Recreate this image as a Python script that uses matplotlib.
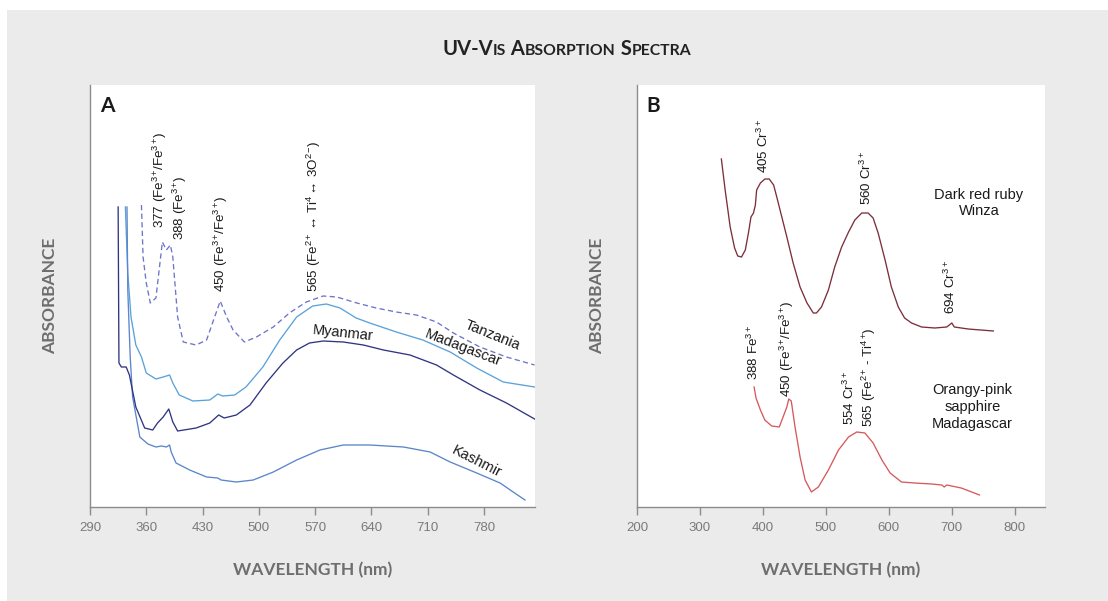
import numpy as np
import matplotlib
matplotlib.use("Agg")
import matplotlib.pyplot as plt
from matplotlib.patches import Rectangle

plt.rcParams["font.family"] = ["Liberation Sans", "DejaVu Sans"]
plt.rcParams["mathtext.fontset"] = "custom"
plt.rcParams["mathtext.rm"] = "Liberation Sans"
plt.rcParams["mathtext.it"] = "Liberation Sans:italic"
plt.rcParams["mathtext.bf"] = "Liberation Sans:bold"

# ---- panel A data (wavelength nm, absorbance arb. units) ----
tanzania_wl = [354, 356, 360, 365, 372, 380, 385, 390, 393, 399, 406, 422, 435, 445, 452,
               460, 468, 482, 497, 518, 538, 559, 580, 597, 622, 646, 671, 696, 721, 742,
               775, 808, 843]
tanzania_abs = [3.02, 2.50, 2.24, 2.04, 2.09, 2.65, 2.57, 2.62, 2.50, 1.90, 1.65, 1.62, 1.67,
                1.90, 2.06, 1.90, 1.77, 1.65, 1.70, 1.80, 1.94, 2.05, 2.11, 2.10, 2.04, 1.99,
                1.95, 1.92, 1.85, 1.74, 1.60, 1.50, 1.42]

madagascar_wl = [334, 337, 341, 347, 354, 360, 372, 381, 389, 393, 401, 418, 439, 449, 455,
                 470, 484, 505, 526, 547, 567, 584, 601, 621, 638, 671, 704, 738, 771, 804, 843]
madagascar_abs = [3.00, 2.34, 1.90, 1.62, 1.50, 1.34, 1.28, 1.30, 1.32, 1.24, 1.12, 1.06, 1.07,
                  1.13, 1.11, 1.12, 1.20, 1.40, 1.67, 1.90, 2.01, 2.03, 1.99, 1.89, 1.84, 1.75,
                  1.67, 1.55, 1.39, 1.25, 1.20]

myanmar_wl = [325, 326, 329, 335, 339, 347, 358, 368, 374, 381, 388, 393, 399, 422, 439, 450,
              457, 472, 489, 509, 530, 547, 563, 580, 605, 630, 655, 688, 721, 742, 775, 808, 843]
myanmar_abs = [3.00, 1.44, 1.40, 1.40, 1.32, 1.00, 0.79, 0.77, 0.84, 0.90, 0.98, 0.85, 0.76,
               0.79, 0.84, 0.92, 0.89, 0.92, 1.02, 1.24, 1.44, 1.57, 1.64, 1.66, 1.65, 1.62,
               1.57, 1.52, 1.42, 1.32, 1.17, 1.04, 0.88]

kashmir_wl = [336, 337, 340, 343, 352, 362, 372, 379, 385, 389, 391, 397, 414, 435, 449, 453,
              472, 493, 518, 547, 576, 605, 638, 680, 713, 738, 771, 800, 831]
kashmir_abs = [3.00, 2.17, 1.50, 1.10, 0.70, 0.63, 0.60, 0.61, 0.60, 0.62, 0.55, 0.44, 0.37,
               0.30, 0.29, 0.27, 0.25, 0.27, 0.35, 0.47, 0.57, 0.62, 0.62, 0.60, 0.55, 0.45,
               0.34, 0.24, 0.07]

# ---- panel B data ----
ruby_wl = [334, 340, 348, 355, 360, 366, 372, 377, 381, 385, 388, 390, 396, 403, 410, 417,
           422, 430, 438, 448, 459, 470, 480, 485, 493, 504, 514, 525, 536, 546, 557, 567,
           575, 583, 594, 604, 615, 625, 636, 652, 673, 692, 700, 704, 726, 766]
ruby_abs = [3.48, 3.17, 2.80, 2.59, 2.51, 2.50, 2.57, 2.74, 2.90, 2.94, 3.02, 3.17, 3.24, 3.28,
            3.28, 3.22, 3.10, 2.90, 2.70, 2.44, 2.20, 2.04, 1.94, 1.94, 2.00, 2.17, 2.40, 2.60,
            2.75, 2.87, 2.94, 2.94, 2.89, 2.74, 2.47, 2.20, 2.00, 1.89, 1.84, 1.80, 1.79, 1.80,
            1.84, 1.80, 1.78, 1.76]

sapphire_wl = [386, 389, 396, 403, 414, 426, 432, 438, 441, 445, 451, 459, 467, 477, 488, 504,
               520, 536, 549, 562, 575, 589, 602, 620, 641, 668, 684, 688, 692, 715, 744]
sapphire_abs = [1.20, 1.09, 0.97, 0.87, 0.81, 0.80, 0.90, 1.00, 1.08, 1.06, 0.80, 0.50, 0.27,
                0.15, 0.20, 0.37, 0.57, 0.70, 0.75, 0.74, 0.64, 0.47, 0.34, 0.25, 0.24, 0.23,
                0.22, 0.20, 0.22, 0.19, 0.12]

ticks_a = [290, 360, 430, 500, 570, 640, 710, 780]
ticks_b = [200, 300, 400, 500, 600, 700, 800]


def sup(s):
    return r"$^{\mathregular{%s}}\!$" % s


# peak annotations: (wavelength, absorbance, label)
peaks_a = [
    (377, 2.79, "377 (Fe" + sup("3+") + "/Fe" + sup("3+") + ")"),
    (402, 2.67, "388 (Fe" + sup("3+") + ")"),
    (453, 2.15, "450 (Fe" + sup("3+") + "/Fe" + sup("3+") + ")"),
    (568, 2.15, "565 (Fe" + sup("2+") + " \u2194 Ti" + sup("4") + " \u2194 3O" + sup("2-") + ")"),
]
peaks_b = [
    (401, 3.34, "405 Cr" + sup("3+")),
    (565, 3.02, "560 Cr" + sup("3+")),
    (697, 1.93, "694 Cr" + sup("3+")),
    (385, 1.27, "388 Fe" + sup("3+")),
    (438, 1.10, "450 (Fe" + sup("3+") + "/Fe" + sup("3+") + ")"),
    (537, 0.82, "554 Cr" + sup("3+")),
    (569, 0.80, "565 (Fe" + sup("2+") + " - Ti" + sup("4+") + ")"),
]

W, H = 1108, 601
fig = plt.figure(figsize=(W / 100, H / 100), dpi=100, facecolor="#ebebeb")
# white margins at top / left like the page crop
fig.patches.append(Rectangle((0, 1 - 10 / H), 1, 10 / H, transform=fig.transFigure,
                             facecolor="white", edgecolor="none", zorder=-5))
fig.patches.append(Rectangle((0, 0), 7 / W, 1, transform=fig.transFigure,
                             facecolor="white", edgecolor="none", zorder=-5))

ax_a = fig.add_axes([90 / W, 94 / H, 445 / W, 422 / H])
ax_b = fig.add_axes([637 / W, 94 / H, 408 / W, 422 / H])

grey = "#8c8c8c"
label_font = ["Lato", "DejaVu Sans"]


def style(ax, xlim, ticks, letter):
    ax.set_facecolor("white")
    ax.set_xlim(*xlim)
    ax.set_ylim(0, 4.22)
    ax.set_xticks(ticks)
    ax.set_yticks([])
    for s in ["top", "right"]:
        ax.spines[s].set_visible(False)
    for s in ["left", "bottom"]:
        ax.spines[s].set_color(grey)
        ax.spines[s].set_linewidth(1.0)
    ax.tick_params(axis="x", direction="out", length=6, width=1, color=grey,
                   labelsize=9.5, labelcolor="#7a7a7a", pad=5)
    ax.set_xlabel("WAVELENGTH (nm)", family=label_font, fontweight="bold",
                  fontsize=12.5, color="#6e6e6e", labelpad=20)
    ax.set_ylabel("ABSORBANCE", family=label_font, fontweight="bold",
                  fontsize=12.5, color="#6e6e6e", labelpad=23)
    ax.text(0.022, 0.975, letter, transform=ax.transAxes, family=label_font,
            fontweight="bold", fontsize=15, color="#1a1a1a", va="top", ha="left")


style(ax_a, (290, 843.5), ticks_a, "A")
style(ax_b, (200, 848), ticks_b, "B")

lw = 0.95
ax_a.plot(tanzania_wl, tanzania_abs, color="#6d74c9", lw=lw, ls=(0, (4, 2.5)))
ax_a.plot(madagascar_wl, madagascar_abs, color="#5aa2da", lw=lw)
ax_a.plot(kashmir_wl, kashmir_abs, color="#5b86c9", lw=lw)
ax_a.plot(myanmar_wl, myanmar_abs, color="#2f3582", lw=lw)

ax_b.plot(ruby_wl, ruby_abs, color="#7b2f3b", lw=lw)
ax_b.plot(sapphire_wl, sapphire_abs, color="#d55a5d", lw=lw)

for ax, peaks in [(ax_a, peaks_a), (ax_b, peaks_b)]:
    for x, y, s in peaks:
        ax.text(x, y, s, rotation=90, ha="center", va="bottom", fontsize=9.6,
                color="#1a1a1a")

name_kw = dict(fontsize=10.5, color="#1a1a1a", ha="center", va="center")
ax_a.text(791, 1.72, "Tanzania", rotation=-22, **name_kw)
ax_a.text(754, 1.59, "Madagascar", rotation=-21, **name_kw)
ax_a.text(605, 1.74, "Myanmar", rotation=-6, **name_kw)
ax_a.text(771, 0.45, "Kashmir", rotation=-27, **name_kw)
ax_b.text(743, 3.04, "Dark red ruby\nWinza", linespacing=1.25, **name_kw)
ax_b.text(733, 1.00, "Orangy-pink\nsapphire\nMadagascar", linespacing=1.25, **name_kw)

# title in small caps, built from runs of big and small letters
title = "UV-Vis Absorption Spectra"
runs = []
for ch in title:
    small = ch.islower()
    if runs and runs[-1][1] == small:
        runs[-1][0] += ch.upper()
    else:
        runs.append([ch.upper(), small])

renderer = fig.canvas.get_renderer()
texts = []
for s, small in runs:
    t = fig.text(0, 0, s, fontsize=11.3 if small else 14.5, family=label_font,
                 fontweight="bold", color="#222222", va="baseline", ha="left")
    texts.append(t)
widths = [t.get_window_extent(renderer).width for t in texts]
x0 = 567 - sum(widths) / 2
for t, w in zip(texts, widths):
    t.set_x(x0 / W)
    t.set_y(1 - 55 / H)
    x0 += w

fig.savefig("out.png", dpi=100, facecolor=fig.get_facecolor())
